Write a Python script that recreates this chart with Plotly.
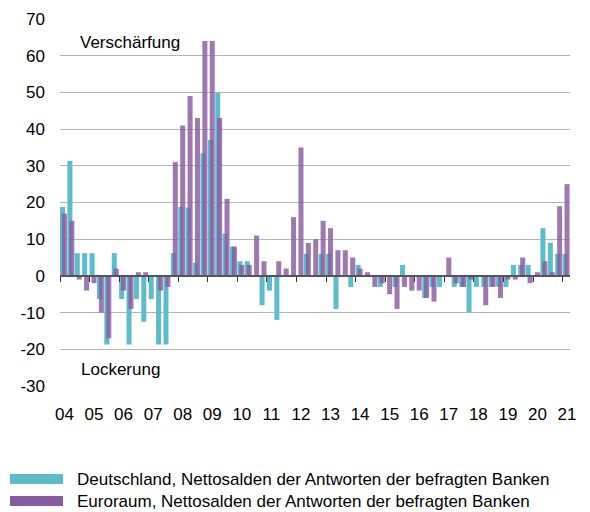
import plotly.graph_objects as go

# quarters 2004Q1 .. 2021Q1
years = list(range(2004, 2022))
quarters = [y + q / 4 for y in years for q in range(4)][:69]

deutschland = [
    18.8, 31.3, 6.2, 6.2,
    6.2, -6.3, -18.7, 6.2,
    -6.3, -18.7, -6.3, -12.5,
    -6.3, -18.7, -18.7, 6.2,
    18.8, 18.6, 3.6, 33.4,
    37, 50, 11.5, 8,
    4, 4, 0, -8,
    -4, -12, 0, 0,
    0, 6, 0, 6,
    6, -9, 0, -3,
    3, 0, 0, -3,
    0, -3, 3, 0,
    0, -6, -3, -3,
    0, -3, -3, -10,
    -3, -3, -3, -3,
    -3, 3, 3, 3,
    0, 13, 9, 6,
    6,
]

euroraum = [
    17, 15, -1, -4,
    -2, -10, -17, 2,
    -4, -9, 1, 1,
    0, -4, -3, 31,
    41, 49, 43, 64,
    64, 43, 21, 8,
    3, 3, 11, 4,
    0, 4, 2, 16,
    35, 9, 10, 15,
    13, 7, 7, 5,
    2, 1, -3, -2,
    -5, -9, -3, -4,
    -4, -6, -7, 0,
    5, -2, -3, -1,
    0, -8, -3, -6,
    -1, -1, 5, -2,
    1, 4, 1, 19,
    25,
]

year_labels = [f"{y % 100:02d}" for y in years]
y_ticks = list(range(-30, 71, 10))
y_labels = [str(v) for v in y_ticks]

TEAL = "rgb(94,188,202)"
PURPLE = "rgb(136,90,160)"
FONT = "Liberation Sans, Arial, sans-serif"

# the page body adds an 8px margin, so the figure is drawn 8px smaller
OFF = 8
W, H = 590 - OFF, 512 - OFF
L, R, T, B = 60 - OFF, 20, 19 - OFF, 126

fig = go.Figure()
fig.add_trace(go.Bar(
    x=quarters, y=deutschland, offset=0, width=0.17,
    marker=dict(color=TEAL, line=dict(width=0)),
    name="Deutschland", showlegend=False,
))
fig.add_trace(go.Bar(
    x=quarters, y=euroraum, offset=0.065, width=0.17,
    marker=dict(color=PURPLE, opacity=0.82, line=dict(width=0)),
    name="Euroraum", showlegend=False, xaxis="x2",
))

x_range = [2004, 2021.25]

fig.update_layout(
    width=W, height=H,
    margin=dict(l=L, r=R, t=T, b=B, autoexpand=False),
    plot_bgcolor="white", paper_bgcolor="white",
    font=dict(family=FONT, size=17, color="black"),
    barmode="overlay",
    xaxis=dict(
        range=x_range, showgrid=False, zeroline=False, showline=False,
        tickvals=[y + 0.15 for y in years], ticktext=year_labels,
        ticks="", ticklabelstandoff=16, automargin=False,
    ),
    xaxis2=dict(
        range=x_range, overlaying="x", anchor="free", position=0.3,
        showgrid=False, zeroline=False, showticklabels=False,
        showline=True, linecolor="#555555", linewidth=1.5,
        tickvals=years, ticks="outside", ticklen=5, tickwidth=1.3,
        tickcolor="#333333", automargin=False,
    ),
    yaxis=dict(
        range=[-30, 70], tickvals=y_ticks, ticktext=y_labels,
        showgrid=True, gridcolor="#b4b4b4", gridwidth=1.3,
        zeroline=False, showline=False, ticks="", ticklabelstandoff=14,
        automargin=False,
    ),
)

fig.add_annotation(x=2004.6, y=63.7, text="Verschärfung", showarrow=False,
                   xanchor="left", yanchor="middle", font=dict(size=17))
fig.add_annotation(x=2004.65, y=-25.6, text="Lockerung", showarrow=False,
                   xanchor="left", yanchor="middle", font=dict(size=17))

plot_w = W - L - R
plot_h = H - T - B


def fx(px):
    # screen x -> paper x
    return (px - OFF - L) / plot_w


def fy(py):
    # screen y -> paper y
    return (T + plot_h - (py - OFF)) / plot_h


legend_items = [
    ("Deutschland, Nettosalden der Antworten der befragten Banken", TEAL, 479),
    ("Euroraum, Nettosalden der Antworten der befragten Banken", PURPLE, 501),
]
for text, color, cy in legend_items:
    fig.add_shape(type="rect", xref="paper", yref="paper",
                  x0=fx(10), x1=fx(63), y0=fy(cy + 5), y1=fy(cy - 5),
                  fillcolor=color, line=dict(width=0))
    fig.add_annotation(xref="paper", yref="paper", x=fx(75), y=fy(cy),
                       text=text, showarrow=False, xanchor="left",
                       yanchor="middle", font=dict(size=17))

fig.write_html("out.html")
